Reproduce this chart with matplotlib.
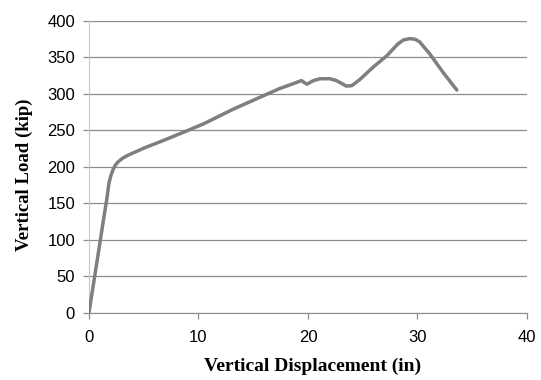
import matplotlib
matplotlib.use("Agg")
import matplotlib.pyplot as plt

disp = [0, 0.5, 1.0, 1.31, 1.61, 1.83, 2.0, 2.2, 2.4, 2.68, 3.1, 3.6, 5.1, 6.8, 8.6, 10.5,
        13.2, 15.0, 16.5, 17.4, 18.7, 19.4, 19.9, 20.5, 21.1, 22.0, 22.6, 23.5, 24.0,
        24.7, 26.0, 27.2, 28.2, 28.7, 29.3, 29.8, 30.2, 31.1, 32.4, 33.6]
load = [0, 48, 96, 126, 154, 178, 188, 196, 202, 207, 212, 216, 226, 236, 247, 259,
        279, 291, 301, 307, 314, 318, 313, 318, 320.5, 320.5, 318, 310.5, 311,
        319, 337, 352, 368, 373.5, 375.5, 374.5, 371, 355, 328, 305]
xticks = [0, 10, 20, 30, 40]
yticks = [0, 50, 100, 150, 200, 250, 300, 350, 400]

fig = plt.figure(figsize=(5.41, 3.80), dpi=100)
ax = fig.add_axes([0.1645, 0.177, 0.8095, 0.7685])
ax.plot(disp, load, color="#7f7f7f", lw=2.5, solid_capstyle="round", solid_joinstyle="round", zorder=3)
ax.set_xlim(0, 40)
ax.set_ylim(0, 400)
ax.set_xticks(xticks)
ax.set_yticks(yticks)
ax.yaxis.grid(True, color="#8c8c8c", lw=0.9)
ax.set_axisbelow(True)
for s in ["top", "right"]:
    ax.spines[s].set_visible(False)
ax.spines["left"].set_color("#c8c8c8")
ax.spines["bottom"].set_color("#8c8c8c")
ax.tick_params(axis="both", colors="#8c8c8c", labelcolor="black", labelsize=12, length=4, width=0.9)
ax.tick_params(axis="x", pad=8.5)
ax.tick_params(axis="y", pad=6)
for lab in ax.get_xticklabels() + ax.get_yticklabels():
    lab.set_family("Liberation Sans")
ax.set_xlabel("Vertical Displacement (in)", family="Liberation Serif", fontweight="bold", fontsize=14)
ax.set_ylabel("Vertical Load (kip)", family="Liberation Serif", fontweight="bold", fontsize=13.5)
ax.xaxis.set_label_coords(0.511, -0.155)
ax.yaxis.set_label_coords(-0.128, 0.473)
fig.savefig("out.png", dpi=100)
